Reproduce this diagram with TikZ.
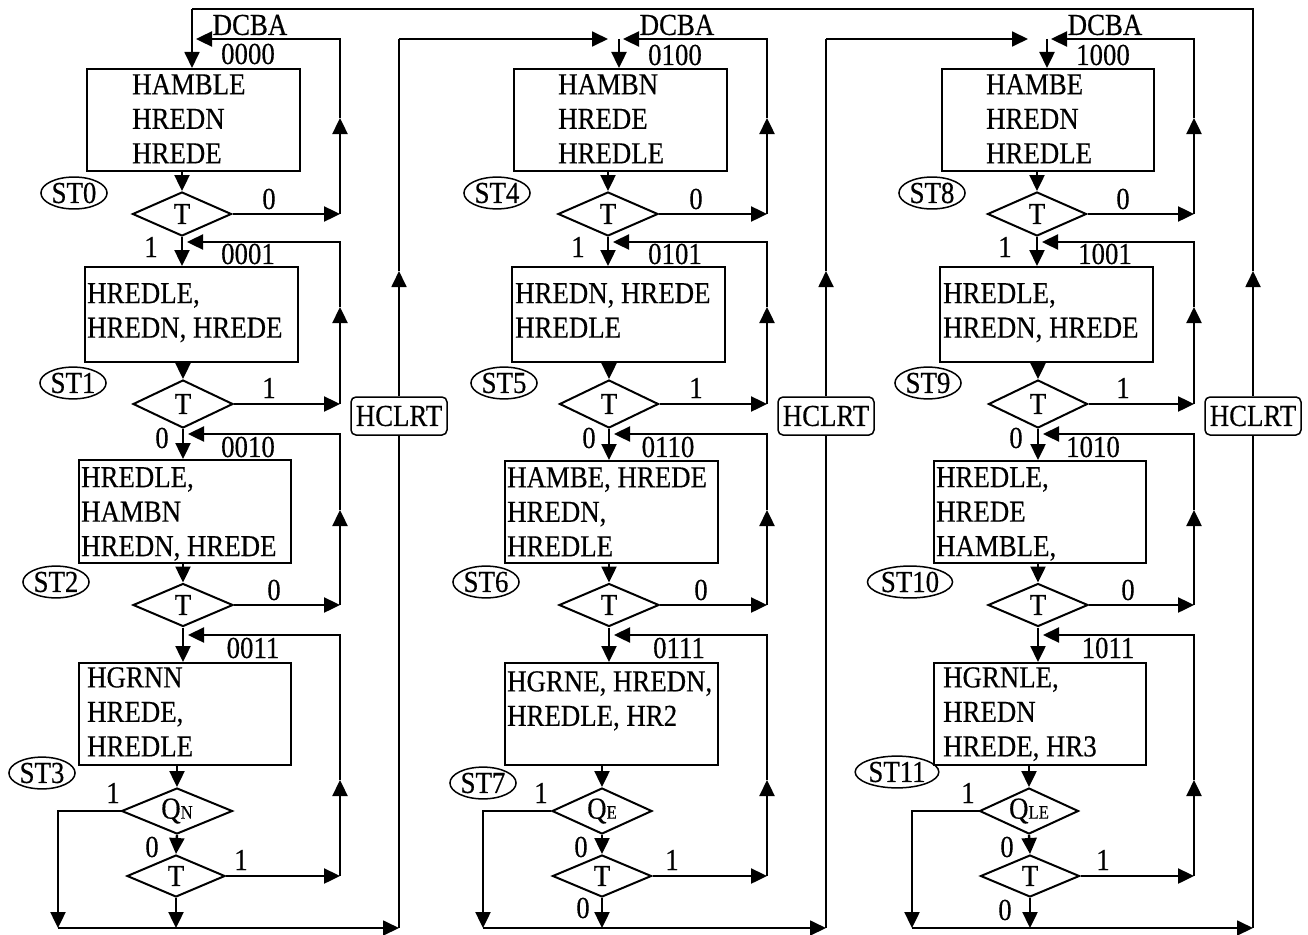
\documentclass[tikz,border=0pt]{standalone}
\usepackage{fontspec}
\setmainfont[FakeStretch=0.88,FakeBold=0.4]{Liberation Serif}
\usetikzlibrary{arrows.meta,shapes.geometric,calc}
\newcommand\bigf{\fontsize{30.5}{34.5}\selectfont}
\newcommand\subf{\fontsize{19}{19}\selectfont}
\tikzset{
  conn/.style={line width=2.4pt},
  arr/.style={conn,-{Triangle[length=16pt,width=15pt]}},
  busl/.style={line width=1.8pt},
  busarr/.style={busl,-{Triangle[length=16pt,width=15pt]}},
  box/.style={draw,line width=1.6pt,inner sep=0pt,anchor=north west},
  txt/.style={inner sep=0pt,align=left,anchor=north west},
  dec/.style={diamond,draw,line width=2pt,inner sep=0pt,aspect=2.2},
  st/.style={ellipse,draw,line width=1.5pt,inner sep=1pt},
  lbl/.style={inner sep=0pt},
  clr/.style={draw,rounded corners=5pt,line width=1.5pt,minimum width=96pt,minimum height=38pt,inner sep=0pt}
}
\begin{document}
\begin{tikzpicture}[x=1pt,y=-1pt,every node/.style={font=\bigf}]
\useasboundingbox (0,0) rectangle (1308,934);

% ---------- boxes ----------
\node[box,minimum width=213pt,minimum height=102pt] (bA1) at (86,68) {};
\node[txt] (xA1) at (132,74) {HAMBLE\\HREDN\\HREDE};
\node[box,minimum width=213pt,minimum height=95pt] (bB1) at (84,266) {};
\node[txt] (xB1) at (87,283) {HREDLE,\\HREDN, HREDE};
\node[box,minimum width=212pt,minimum height=103pt] (bC1) at (78,459) {};
\node[txt] (xC1) at (81,467) {HREDLE,\\HAMBN\\HREDN, HREDE};
\node[box,minimum width=212pt,minimum height=102pt] (bD1) at (78,662) {};
\node[txt] (xD1) at (87,667) {HGRNN\\HREDE,\\HREDLE};

\node[box,minimum width=213pt,minimum height=102pt] (bA2) at (513,68) {};
\node[txt] (xA2) at (558,74) {HAMBN\\HREDE\\HREDLE};
\node[box,minimum width=213pt,minimum height=95pt] (bB2) at (511,266) {};
\node[txt] (xB2) at (515,283) {HREDN, HREDE\\HREDLE};
\node[box,minimum width=213pt,minimum height=102pt] (bC2) at (504,460) {};
\node[txt] (xC2) at (507,467) {HAMBE, HREDE\\HREDN,\\HREDLE};
\node[box,minimum width=213pt,minimum height=102pt] (bD2) at (504,662) {};
\node[txt] (xD2) at (507,671) {HGRNE, HREDN,\\HREDLE, HR2};

\node[box,minimum width=212pt,minimum height=102pt] (bA3) at (941,68) {};
\node[txt] (xA3) at (986,74) {HAMBE\\HREDN\\HREDLE};
\node[box,minimum width=213pt,minimum height=95pt] (bB3) at (939,266) {};
\node[txt] (xB3) at (943,283) {HREDLE,\\HREDN, HREDE};
\node[box,minimum width=212pt,minimum height=102pt] (bC3) at (933,460) {};
\node[txt] (xC3) at (936,467) {HREDLE,\\HREDE\\HAMBLE,};
\node[box,minimum width=212pt,minimum height=102pt] (bD3) at (933,662) {};
\node[txt] (xD3) at (943,667) {HGRNLE,\\HREDN\\HREDE, HR3};

% ---------- decisions ----------
\node[dec,minimum width=99pt,minimum height=44pt] (dA1) at (182,214) {T};
\node[dec,minimum width=100pt,minimum height=48pt] (dB1) at (183,404) {T};
\node[dec,minimum width=100pt,minimum height=43pt] (dC1) at (183,605) {T};
\node[dec,minimum width=111pt,minimum height=46pt] (q1) at (177,811) {Q{\subf N}};
\node[dec,minimum width=98pt,minimum height=42pt] (t1) at (176,876) {T};

\node[dec,minimum width=100pt,minimum height=44pt] (dA2) at (608,214) {T};
\node[dec,minimum width=99pt,minimum height=48pt] (dB2) at (609,404) {T};
\node[dec,minimum width=100pt,minimum height=43pt] (dC2) at (609,605) {T};
\node[dec,minimum width=100pt,minimum height=46pt] (q2) at (602,811) {Q{\subf E}};
\node[dec,minimum width=99pt,minimum height=42pt] (t2) at (602,876) {T};

\node[dec,minimum width=99pt,minimum height=44pt] (dA3) at (1037,214) {T};
\node[dec,minimum width=99pt,minimum height=48pt] (dB3) at (1038,404) {T};
\node[dec,minimum width=100pt,minimum height=43pt] (dC3) at (1038,605) {T};
\node[dec,minimum width=99pt,minimum height=46pt] (q3) at (1029,811) {Q{\subf LE}};
\node[dec,minimum width=99pt,minimum height=42pt] (t3) at (1030,876) {T};

% ---------- state labels ----------
\node[st] (s0) at (74,193) {ST0};
\node[st] (s1) at (73,383) {ST1};
\node[st] (s2) at (56,582) {ST2};
\node[st] (s3) at (42,773) {ST3};
\node[st] (s4) at (497,193) {ST4};
\node[st] (s5) at (504,383) {ST5};
\node[st] (s6) at (486,582) {ST6};
\node[st] (s7) at (483,783) {ST7};
\node[st] (s8) at (932,193) {ST8};
\node[st] (s9) at (928,383) {ST9};
\node[st] (s10) at (910,582) {ST10};
\node[st] (s11) at (897,772) {ST11};

% ---------- HCLRT ----------
\node[clr] (h1) at (399,416) {HCLRT};
\node[clr] (h2) at (826,416) {HCLRT};
\node[clr] (h3) at (1253,416) {HCLRT};

% ---------- codes ----------
\node[lbl] (k1a) at (250,25) {DCBA};
\node[lbl] (k1b) at (248,54) {0000};
\node[lbl] (k1c) at (248,254) {0001};
\node[lbl] (k1d) at (248,447) {0010};
\node[lbl] (k1e) at (253,648) {0011};
\node[lbl] (k2a) at (677,25) {DCBA};
\node[lbl] (k2b) at (675,55) {0100};
\node[lbl] (k2c) at (675,254) {0101};
\node[lbl] (k2d) at (668,447) {0110};
\node[lbl] (k2e) at (679,648) {0111};
\node[lbl] (k3a) at (1105,25) {DCBA};
\node[lbl] (k3b) at (1103,55) {1000};
\node[lbl] (k3c) at (1105,254) {1001};
\node[lbl] (k3d) at (1093,447) {1010};
\node[lbl] (k3e) at (1108,648) {1011};

% ---------- branch labels ----------
\foreach \c/\X in {1/0,2/427,3/854}{
  \node[lbl] (la\c) at (269+\X,199) {0};
  \node[lbl] (lb\c) at (151+\X,247) {1};
  \node[lbl] (lc\c) at (269+\X,388) {1};
  \node[lbl] (ld\c) at (162+\X,438) {0};
  \node[lbl] (le\c) at (274+\X,590) {0};
}
\node[lbl] (lf1) at (113,793) {1};
\node[lbl] (lg1) at (152,847) {0};
\node[lbl] (lh1) at (241,860) {1};
\node[lbl] (lf2) at (541,793) {1};
\node[lbl] (lg2) at (581,847) {0};
\node[lbl] (lh2) at (672,860) {1};
\node[lbl] (li2) at (583,908) {0};
\node[lbl] (lf3) at (968,793) {1};
\node[lbl] (lg3) at (1007,847) {0};
\node[lbl] (lh3) at (1103,860) {1};
\node[lbl] (li3) at (1005,910) {0};

% ---------- coordinates ----------
\foreach \c/\X/\ex/\lf/\etip in {1/0/192/58/196,2/427/619/483/623,3/854/1047/912/1051}{
  \coordinate (rA\c) at (340+\X,214);
  \coordinate (uA\c) at (340+\X,118);
  \coordinate (cA\c) at (340+\X,39);
  \coordinate (eA\c) at (\etip,39);
  \coordinate (jA\c) at (\ex,39);
  \coordinate (rB\c) at (340+\X,404);
  \coordinate (uB\c) at (340+\X,307);
  \coordinate (cB\c) at (340+\X,242);
  \coordinate (rC\c) at (340+\X,605);
  \coordinate (uC\c) at (340+\X,510);
  \coordinate (cC\c) at (340+\X,434);
  \coordinate (rD\c) at (340+\X,876);
  \coordinate (uD\c) at (340+\X,780);
  \coordinate (cD\c) at (340+\X,635);
  \coordinate (bL\c) at (\lf,928);
  \coordinate (bH\c) at (399+\X,928);
  \coordinate (hU\c) at (399+\X,271);
}
\coordinate (tL) at (192,9);
\coordinate (tR) at (1253,9);
\coordinate (hT1) at (399,39);
\coordinate (hT2) at (826,39);
\coordinate (aA2) at (608,39);
\coordinate (aA3) at (1028,39);

% ---------- connectors ----------
\foreach \c in {1,2,3}{
  \draw[arr] (bA\c.south -| dA\c.north) -- (dA\c.north);
  \draw[arr] (dA\c.south) -- (dA\c.south |- bB\c.north);
  \draw[arr] (bB\c.south -| dB\c.north) -- (dB\c.north);
  \draw[arr] (dB\c.south) -- (dB\c.south |- bC\c.north);
  \draw[arr] (bC\c.south -| dC\c.north) -- (dC\c.north);
  \draw[arr] (dC\c.south) -- (dC\c.south |- bD\c.north);
  \draw[arr] (bD\c.south -| q\c.north) -- (q\c.north);
  \draw[arr] (q\c.south) -- (t\c.north);
  \draw[arr] (t\c.south) -- (t\c.south |- bL\c);
  \draw[arr] (q\c.west) -- (q\c.west -| bL\c) -- (bL\c);
  \draw[busarr] (bL\c) -- (bH\c);
  \draw[busl] (bH\c) -- (h\c.south);
  \draw[busarr] (h\c.north) -- (hU\c);
  % loops
  \draw[arr] (dA\c.east) -- (rA\c);
  \draw[arr] (rA\c) -- (uA\c);
  \draw[arr] (uA\c) -- (cA\c) -- (eA\c);
  \draw[arr] (dB\c.east) -- (rB\c);
  \draw[arr] (rB\c) -- (uB\c);
  \draw[arr] (uB\c) -- (cB\c) -- ($(dA\c.south |- cB\c)+(5,0)$);
  \draw[arr] (dC\c.east) -- (rC\c);
  \draw[arr] (rC\c) -- (uC\c);
  \draw[arr] (uC\c) -- (cC\c) -- ($(dB\c.south |- cC\c)+(5,0)$);
  \draw[arr] (t\c.east) -- (rD\c);
  \draw[arr] (rD\c) -- (uD\c);
  \draw[arr] (uD\c) -- (cD\c) -- ($(dC\c.south |- cD\c)+(5,0)$);
}
\draw[arr] (jA2) -- (jA2 |- bA2.north);
\draw[arr] (jA3) -- (jA3 |- bA3.north);
\draw[busl] (hU1) -- (hT1);
\draw[busarr] (hT1) -- (aA2);
\draw[busl] (hU2) -- (hT2);
\draw[busarr] (hT2) -- (aA3);
\draw[busl] (hU3) -- (tR) -- (tL);
\draw[busarr] (tL) -- (tL |- bA1.north);
\end{tikzpicture}
\end{document}
